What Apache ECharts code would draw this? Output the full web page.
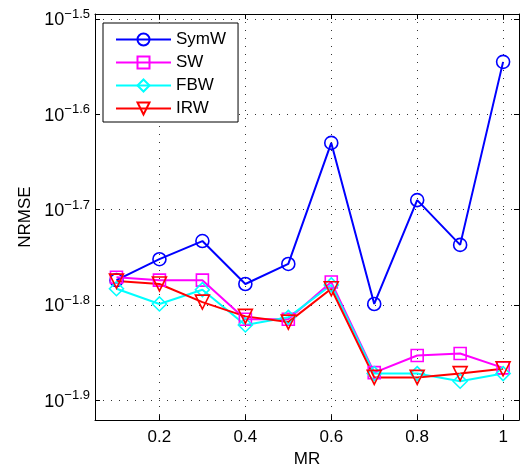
<!DOCTYPE html>
<html>
<head>
<meta charset="utf-8">
<script src="https://cdn.jsdelivr.net/npm/echarts@6/dist/echarts.min.js"></script>
<style>
html, body { margin: 0; padding: 0; background: #fff; }
#chart { width: 522px; height: 473px; }
</style>
</head>
<body>
<div id="chart"></div>
<script>
// MR values along the x axis
var mr = [0.1, 0.2, 0.3, 0.4, 0.5, 0.6, 0.7, 0.8, 0.9, 1.0];
// log10(NRMSE)
var symW = [-1.774, -1.752, -1.733, -1.778, -1.757, -1.630, -1.799, -1.690, -1.737, -1.545];
var sw   = [-1.771, -1.774, -1.774, -1.815, -1.815, -1.776, -1.871, -1.853, -1.851, -1.866];
var fbw  = [-1.783, -1.799, -1.784, -1.821, -1.813, -1.779, -1.872, -1.872, -1.880, -1.872];
var irw  = [-1.775, -1.778, -1.797, -1.812, -1.818, -1.783, -1.876, -1.876, -1.872, -1.867];
var xTicks = [0.2, 0.4, 0.6, 0.8, 1.0];
var yTicks = [-1.9, -1.8, -1.7, -1.6, -1.5];

var font = 'Liberation Sans, Arial, sans-serif';
var myChart = echarts.init(document.getElementById('chart'));

function pairs(ys) {
  var out = [];
  for (var i = 0; i < mr.length; i++) out.push([mr[i], ys[i]]);
  return out;
}

function mkSeries(name, ys, color, symbol, size, rotate) {
  return {
    name: name,
    type: 'line',
    data: pairs(ys),
    symbol: symbol,
    symbolSize: size,
    symbolRotate: rotate || 0,
    lineStyle: { color: color, width: 2 },
    itemStyle: { color: 'transparent', borderColor: color, borderWidth: 1.6 },
    emphasis: { disabled: true },
    animation: false
  };
}

var dotted = { show: true, lineStyle: { color: '#333', width: 1, type: [1, 7] } };

var option = {
  backgroundColor: '#fff',
  grid: { left: 95, right: 3, top: 14, bottom: 50 },
  legend: {
    orient: 'vertical',
    left: 103,
    top: 23,
    width: 134,
    padding: [8, 12, 5, 12],
    itemGap: 6,
    itemWidth: 55,
    itemHeight: 15,
    backgroundColor: '#fff',
    borderColor: '#000',
    borderWidth: 1,
    textStyle: { fontFamily: font, fontSize: 17, color: '#000' },
    data: ['SymW', 'SW', 'FBW', 'IRW']
  },
  xAxis: [{
    type: 'value',
    min: 0.05,
    max: 1.037,
    name: 'MR',
    nameLocation: 'middle',
    nameGap: 30,
    nameTextStyle: { fontFamily: font, fontSize: 17, color: '#000' },
    axisLine: { lineStyle: { color: '#000', width: 1 } },
    axisTick: { inside: true, length: 5, customValues: xTicks, lineStyle: { color: '#000' } },
    axisLabel: {
      customValues: xTicks, margin: 9, fontFamily: font, fontSize: 17, color: '#000',
      formatter: function (v) { return String(Math.round(v * 10) / 10); }
    },
    splitLine: Object.assign({ customValues: xTicks }, dotted)
  }, {
    type: 'value', position: 'top', min: 0.05, max: 1.037,
    axisLine: { lineStyle: { color: '#000', width: 1 } },
    axisTick: { inside: true, length: 5, customValues: xTicks, lineStyle: { color: '#000' } },
    axisLabel: { show: false },
    splitLine: { show: false }
  }],
  yAxis: [{
    type: 'value',
    min: -1.9208,
    max: -1.4948,
    name: 'NRMSE',
    nameLocation: 'middle',
    nameGap: 60,
    nameTextStyle: { fontFamily: font, fontSize: 17, color: '#000' },
    axisLine: { show: true, lineStyle: { color: '#000', width: 1 } },
    axisTick: { show: true, inside: true, length: 5, customValues: yTicks, lineStyle: { color: '#000' } },
    axisLabel: {
      customValues: yTicks, margin: 5,
      formatter: function (v) { return '{b|10}{s|' + v.toFixed(1).replace('-', '\u2212') + '}'; },
      rich: {
        b: { fontFamily: font, fontSize: 18, color: '#000', padding: [3, 0, 0, 0] },
        s: { fontFamily: font, fontSize: 13, color: '#000', padding: [0, 0, 9, 0] }
      }
    },
    splitLine: Object.assign({ customValues: yTicks }, dotted)
  }, {
    type: 'value', position: 'right', min: -1.9208, max: -1.4948,
    axisLine: { show: true, lineStyle: { color: '#000', width: 1 } },
    axisTick: { show: true, inside: true, length: 5, customValues: yTicks, lineStyle: { color: '#000' } },
    axisLabel: { show: false },
    splitLine: { show: false }
  }],
  series: [
    mkSeries('SymW', symW, '#0000ff', 'circle', 13),
    mkSeries('SW', sw, '#ff00ff', 'rect', 12),
    mkSeries('FBW', fbw, '#00ffff', 'diamond', 14),
    mkSeries('IRW', irw, '#ff0000', 'triangle', 14, 180)
  ]
};
myChart.setOption(option);
</script>
</body>
</html>
